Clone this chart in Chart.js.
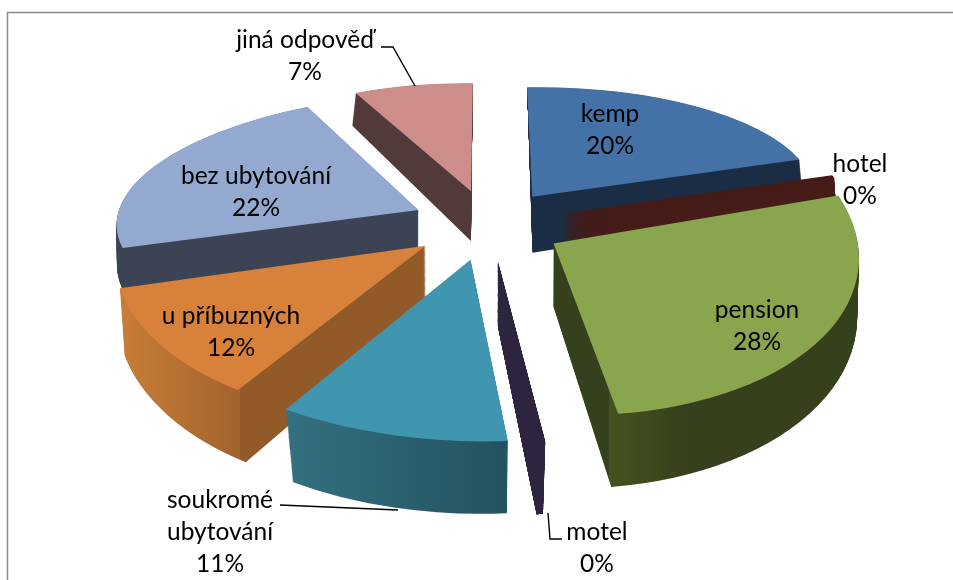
<!DOCTYPE html>
<html><head><meta charset="utf-8">
<style>html,body{margin:0;padding:0;background:#fff}canvas{display:block}</style>
<script src="https://cdn.jsdelivr.net/npm/chart.js@4/dist/chart.umd.js"></script>
</head><body>
<canvas id="c" width="953" height="580"></canvas>
<script>
const categories=['kemp','hotel','pension','motel','soukromé ubytování','u příbuzných','bez ubytování','jiná odpověď'];
const values=[20.1,0.3,27.5,0.3,10.7,11.6,22.2,7.3];
const labelLines=[['kemp'],['hotel'],['pension'],['motel'],['soukromé','ubytování'],['u příbuzných'],['bez ubytování'],['jiná odpověď']];
const topColors=['#4472a6','#451c18','#89a54e','#2d2540','#3f96ae','#d8813b','#93a9cf','#cd8d8b'];
const drawOrder=[7,0,6,1,5,2,3,4];
const wallDepth=[1,1,1,1,1,1,0.7,0.9];
const fitSpread=[0.95,1,0.7,1,1,1,0.95,1];
const wallBoost=[0,3,0,3,0,0,0,0];
const wallStyles=[
 {solid:'#1b2d44'},{solid:'#451c18'},
 {from:'e',to:'s',first:['#45531f','#36401d'],firstStop:0.35,cut:'#36401d',cutSide:'left'},
 {solid:'#2d2540'},
 {from:'e',to:'s',first:['#34707f','#235260']},
 {from:'e',to:'s',first:['#c97d37','#a3642e'],cut:'#925a28',cutSide:'right'},
 {solid:'#3b4355'},{solid:'#52393a'}];
const labelCenters=[[610,114],[860,164],[757,310],[597,532],[220,500],[231,316],[256,176],[305,40]];
const leaders=[[[381,47],[393,47],[415,86]],[[280,505],[398,510]],[[548,513],[550,539],[562,539]]];
const EXPLODE=0.256;
const planeTop={cx:488,cy:224,A:300,B:137,k:0.173,kx:0.118};
const planeBottom={cx:488,cy:284,A:300,B:155,k:0.128,kx:0.09};
const LAYERS=70;

function proj(X,Y,p){return [p.cx+p.A*X/(1-p.kx*Y),p.cy+p.B*Y/(1-p.k*Y)];}
function sliceGeom(arc){
  const mid=(arc.startAngle+arc.endAngle)/2;
  return {R:arc.outerRadius,mid,half:(arc.endAngle-arc.startAngle)/2};
}
function fit(arc,plane,f){
  const g=sliceGeom(arc);
  const a1=g.mid-g.half*f,a2=g.mid+g.half*f;
  const ax=EXPLODE*Math.cos(g.mid),ay=EXPLODE*Math.sin(g.mid);
  const d0=proj(ax,ay,plane),
        d1=proj(ax+Math.cos(a1),ay+Math.sin(a1),plane),
        d2=proj(ax+Math.cos(a2),ay+Math.sin(a2),plane);
  const s11=g.R*Math.cos(a1),s21=g.R*Math.sin(a1),s12=g.R*Math.cos(a2),s22=g.R*Math.sin(a2);
  const det=s11*s22-s12*s21;
  const ux=d1[0]-d0[0],uy=d1[1]-d0[1],vx=d2[0]-d0[0],vy=d2[1]-d0[1];
  const a=(ux*s22-vx*s21)/det,c=(-ux*s12+vx*s11)/det,b=(uy*s22-vy*s21)/det,d=(-uy*s12+vy*s11)/det;
  return [a,b,c,d,d0[0]-a*arc.x-c*arc.y,d0[1]-b*arc.x-d*arc.y];
}
function corner(arc,which){
  const g=sliceGeom(arc),ang=which==='s'?arc.startAngle:arc.endAngle;
  return proj(EXPLODE*Math.cos(g.mid)+Math.cos(ang),EXPLODE*Math.sin(g.mid)+Math.sin(ang),planeTop);
}
const pie3d={
  id:'pie3d',
  beforeDraw(chart){
    const ctx=chart.ctx;ctx.save();ctx.fillStyle='#fff';ctx.fillRect(0,0,953,580);
    ctx.strokeStyle='#8a8a8a';ctx.lineWidth=1.5;
    ctx.beginPath();ctx.moveTo(7.5,580);ctx.lineTo(7.5,12.5);ctx.lineTo(953,12.5);ctx.stroke();ctx.restore();
  },
  beforeDatasetsDraw(chart){
    const ctx=chart.ctx,arcs=chart.getDatasetMeta(0).data;
    const off=document.createElement('canvas');off.width=953;off.height=580;const oc=off.getContext('2d');
    drawOrder.forEach(i=>{
      const arc=arcs[i],mt=fit(arc,planeTop,fitSpread[i]),mb=fit(arc,planeBottom,fitSpread[i]),st=wallStyles[i];
      oc.setTransform(1,0,0,1,0,0);oc.globalCompositeOperation='source-over';oc.clearRect(0,0,953,580);
      for(let l=LAYERS;l>=1;l--){
        const t=l/LAYERS*wallDepth[i];
        oc.setTransform(...mt.map((v,k)=>v+(mb[k]-v)*t));
        arc.draw(oc);
      }
      oc.setTransform(1,0,0,1,0,0);
      for(let b=0;b<wallBoost[i];b++)oc.drawImage(off,0,0);
      oc.globalCompositeOperation='source-in';
      if(st.solid){oc.fillStyle=st.solid;}
      else{
        const x0=corner(arc,st.from)[0],x1=corner(arc,st.to)[0];
        const gr=oc.createLinearGradient(x0,0,x1,0);
        gr.addColorStop(0,st.first[0]);
        if(st.firstStop)gr.addColorStop(st.firstStop,st.first[1]);
        gr.addColorStop(1,st.first[1]);
        oc.fillStyle=gr;
      }
      oc.fillRect(0,0,953,580);
      if(st.cut){
        oc.globalCompositeOperation='source-atop';
        oc.fillStyle=st.cut;
        const xc=corner(arc,st.cutSide==='right'?'s':'e')[0];
        if(st.cutSide==='right')oc.fillRect(xc+2,0,953,580);else oc.fillRect(0,0,xc+1,580);
      }
      ctx.save();ctx.setTransform(1,0,0,1,0,0);ctx.drawImage(off,0,0);
      ctx.setTransform(...mt);arc.draw(ctx);ctx.restore();
    });
    return false;
  },
  afterDraw(chart){
    const ctx=chart.ctx;ctx.save();
    ctx.strokeStyle='#000';ctx.lineWidth=1.4;
    leaders.forEach(l=>{ctx.beginPath();l.forEach((p,k)=>k?ctx.lineTo(p[0],p[1]):ctx.moveTo(p[0],p[1]));ctx.stroke();});
    ctx.fillStyle='#000';ctx.font='24.5px Lato';ctx.textAlign='center';ctx.textBaseline='middle';
    categories.forEach((c,i)=>{
      const lines=[...labelLines[i],Math.round(values[i])+'%'];
      lines.forEach((t,k)=>ctx.fillText(t,labelCenters[i][0],labelCenters[i][1]+k*32));
    });
    ctx.restore();
  }
};
new Chart(document.getElementById('c'),{
  type:'pie',
  data:{labels:categories,datasets:[{data:values,backgroundColor:topColors,borderWidth:0}]},
  options:{responsive:false,animation:false,layout:{padding:0},
    plugins:{legend:{display:false},tooltip:{enabled:false}}},
  plugins:[pie3d]
});
</script>
</body></html>
